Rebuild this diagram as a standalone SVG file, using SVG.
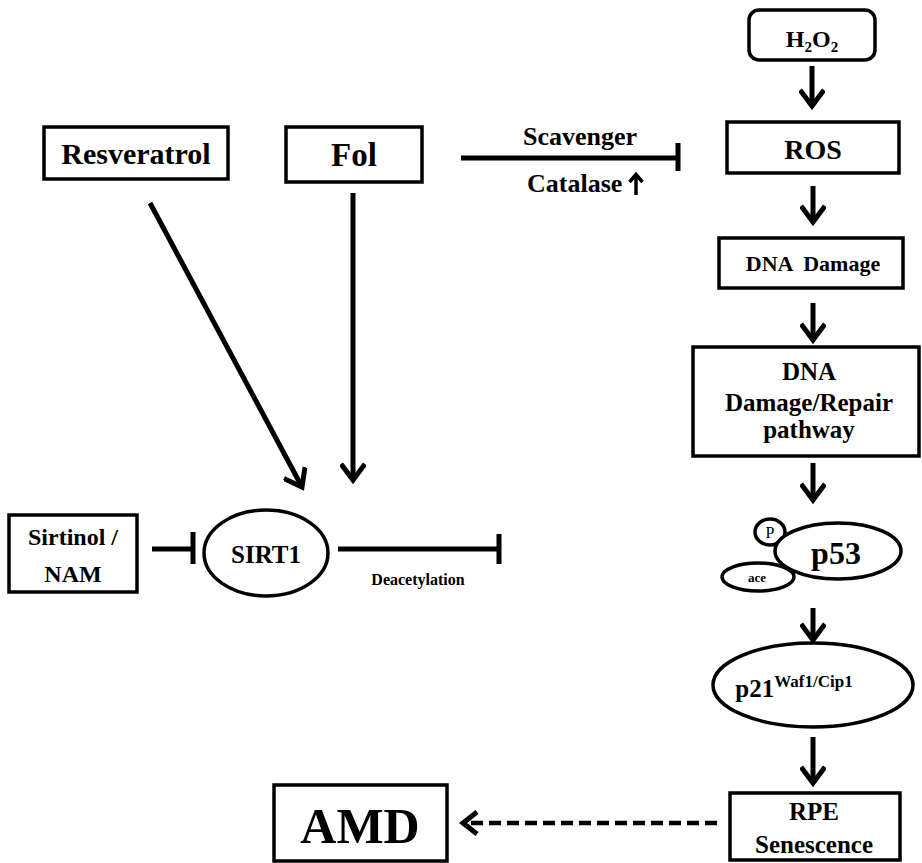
<svg xmlns="http://www.w3.org/2000/svg" width="922" height="863" viewBox="0 0 922 863">
<style>
.box{fill:#fff;stroke:#000;stroke-width:3.5}
.ell{fill:#fff;stroke:#000;stroke-width:3.5}
.t{font-family:"Liberation Serif","Times New Roman",serif;font-weight:bold;fill:#000;text-anchor:middle}
.ln{stroke:#000;stroke-width:5;fill:none}
.dash{stroke:#000;stroke-width:4.5;fill:none;stroke-dasharray:12 6}
</style>
<defs>
<marker id="head" viewBox="0 0 26 26" refX="18" refY="13" markerWidth="26" markerHeight="26" markerUnits="userSpaceOnUse" orient="auto">
<path d="M2,1 L18,13 L2,25" fill="none" stroke="#000" stroke-width="5"/>
</marker>
</defs>

<g id="connectors">
<line class="ln" x1="812" y1="66" x2="812" y2="106" marker-end="url(#head)"/>
<line class="ln" x1="813" y1="186" x2="813" y2="222" marker-end="url(#head)"/>
<line class="ln" x1="813" y1="303" x2="813" y2="340" marker-end="url(#head)"/>
<line class="ln" x1="813" y1="463" x2="813" y2="500" marker-end="url(#head)"/>
<line class="ln" x1="813" y1="608" x2="813" y2="640" marker-end="url(#head)"/>
<line class="ln" x1="813" y1="737" x2="813" y2="783" marker-end="url(#head)"/>
<line class="ln" x1="150" y1="203" x2="302" y2="487" marker-end="url(#head)"/>
<line class="ln" x1="353" y1="193" x2="353" y2="480" marker-end="url(#head)"/>
<path class="ln" d="M461,158 H678 M678,143 V171"/>
<path class="ln" d="M152,549 H193 M193,532 V564"/>
<path class="ln" d="M338,549 H499 M499,534 V564"/>
<line class="dash" x1="717" y1="823" x2="466" y2="823"/>
<path class="ln" d="M477,812 L463,823 L477,834" stroke-width="4.5"/>
<text class="t" x="580" y="145" font-size="26">Scavenger</text>
<text class="t" x="527" y="192" font-size="26" style="text-anchor:start">Catalase</text>
<path d="M636,195 V176" stroke="#000" stroke-width="3.5" fill="none"/>
<path d="M629.5,182 L636,174.5 L642.5,182" stroke="#000" stroke-width="3.5" fill="none"/>
<text class="t" x="418" y="585" font-size="16">Deacetylation</text>
</g>

<g id="h2o2">
<rect class="box" x="749" y="10" width="126" height="50" rx="10"/>
<text class="t" x="812" y="47" font-size="24">H<tspan font-size="15" dy="5">2</tspan><tspan dy="-5">O</tspan><tspan font-size="15" dy="5">2</tspan></text>
</g>
<g id="ros">
<rect class="box" x="727" y="122" width="172" height="51"/>
<text class="t" x="813" y="159" font-size="28">ROS</text>
</g>
<g id="dna-damage">
<rect class="box" x="719" y="238" width="184" height="50"/>
<text class="t" x="813" y="271" font-size="22" xml:space="preserve">DNA  Damage</text>
</g>
<g id="dna-repair">
<rect class="box" x="693" y="347" width="226" height="109"/>
<text class="t" x="809" y="380" font-size="25">DNA</text>
<text class="t" x="809" y="411" font-size="25">Damage/Repair</text>
<text class="t" x="809" y="438" font-size="25">pathway</text>
</g>
<g id="p53">
<ellipse class="ell" cx="770" cy="532" rx="15" ry="13"/>
<text x="770" y="538" font-family="Liberation Serif,serif" font-size="16" text-anchor="middle">P</text>
<ellipse class="ell" cx="758" cy="577" rx="36" ry="14"/>
<text class="t" x="757" y="582" font-size="13">ace</text>
<ellipse class="ell" cx="838" cy="551" rx="63" ry="28"/>
<text class="t" x="836" y="564" font-size="32">p53</text>
</g>
<g id="p21">
<ellipse class="ell" cx="813" cy="685" rx="100" ry="42"/>
<text class="t" x="794" y="697" font-size="25">p21<tspan font-size="17" dy="-10">Waf1/Cip1</tspan></text>
</g>
<g id="rpe">
<rect class="box" x="730" y="793" width="170" height="67"/>
<text class="t" x="814" y="820" font-size="25">RPE</text>
<text class="t" x="814" y="853" font-size="25">Senescence</text>
</g>
<g id="amd">
<rect class="box" x="274" y="785" width="173" height="76"/>
<text class="t" x="360" y="843" font-size="50">AMD</text>
</g>
<g id="resveratrol">
<rect class="box" x="44" y="127" width="184" height="52"/>
<text class="t" x="136" y="164" font-size="30">Resveratrol</text>
</g>
<g id="fol">
<rect class="box" x="286" y="127" width="136" height="55"/>
<text class="t" x="354" y="166" font-size="33">Fol</text>
</g>
<g id="sirtinol">
<rect class="box" x="9" y="515" width="128" height="77"/>
<text class="t" x="73" y="545" font-size="24">Sirtinol /</text>
<text class="t" x="73" y="582" font-size="24">NAM</text>
</g>
<g id="sirt1">
<ellipse class="ell" cx="266" cy="553" rx="62" ry="43"/>
<text class="t" x="266" y="563" font-size="25">SIRT1</text>
</g>
</svg>
